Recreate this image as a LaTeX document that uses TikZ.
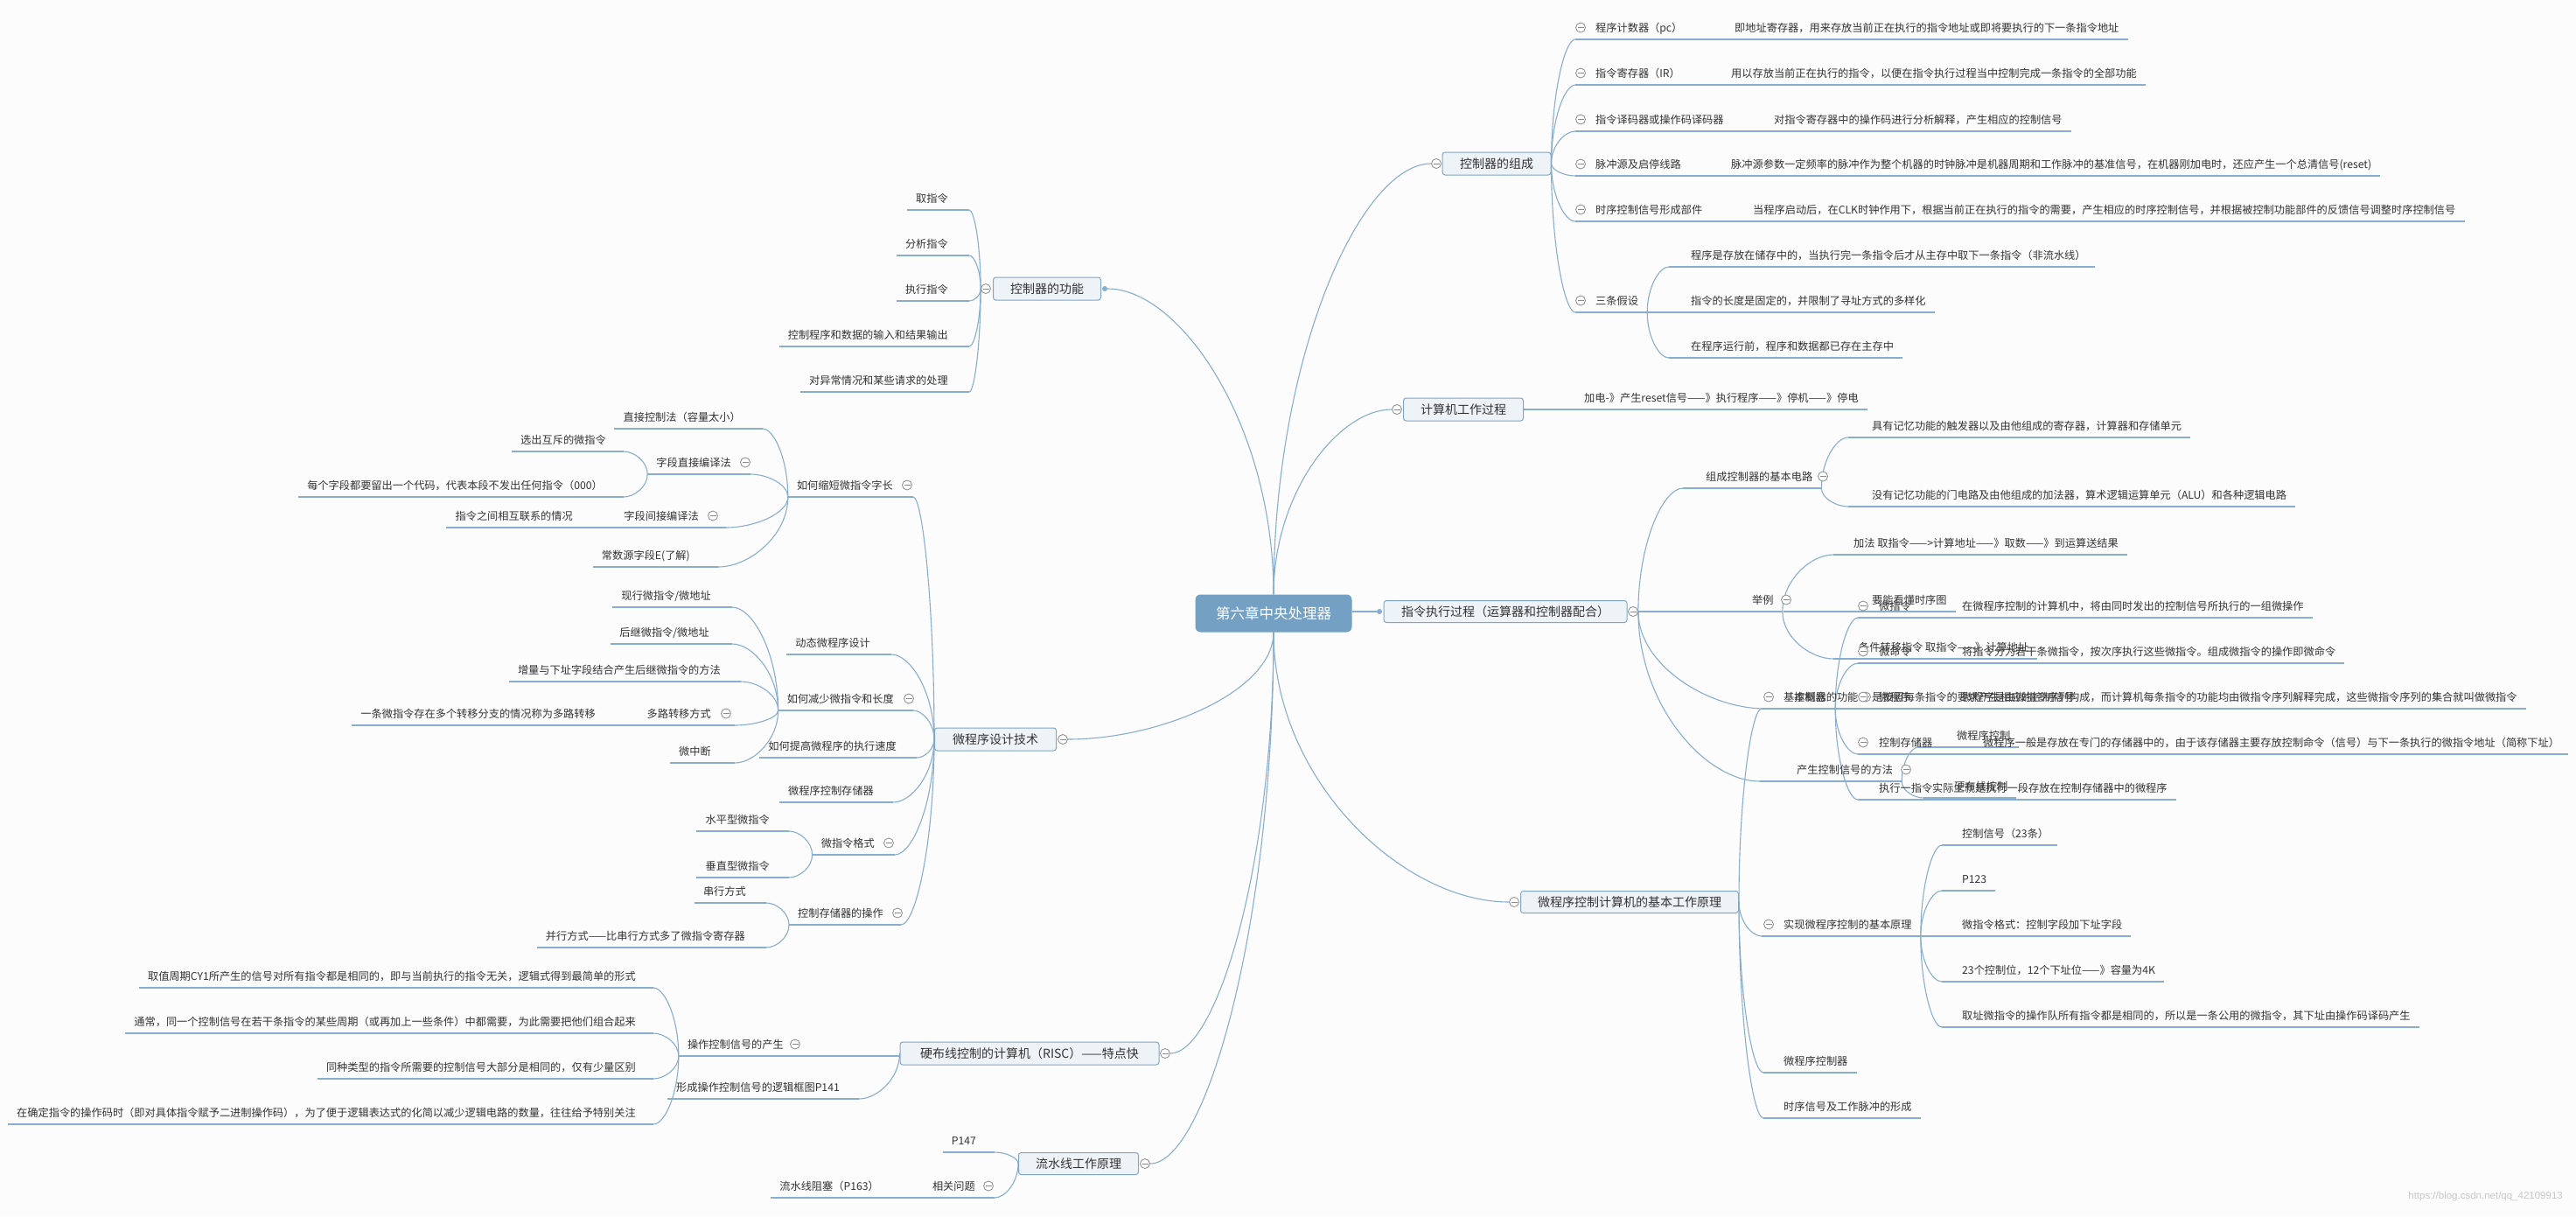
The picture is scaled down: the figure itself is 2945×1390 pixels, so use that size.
\documentclass[tikz,border=0pt]{standalone}
\usepackage{fontspec}
\setmainfont{Noto Sans CJK SC}
\newfontfamily\wmfont{Liberation Sans}
\usetikzlibrary{calc}
\pgfdeclarelayer{back}
\pgfdeclarelayer{bg}
\pgfsetlayers{back,bg,main}
\definecolor{lc}{HTML}{88ADCD}
\definecolor{tc}{HTML}{333333}
\definecolor{tb}{HTML}{7FA6C8}
\definecolor{tf}{HTML}{EEF3F8}
\definecolor{cf}{HTML}{73A0C3}
\definecolor{cg}{HTML}{8A8A8A}
\definecolor{bgc}{HTML}{FCFCFC}
\tikzset{
 ln/.style={draw=lc, line width=1.1pt},
 txt/.style={font=\fontsize{12.2}{14}\selectfont, text=tc, inner sep=0pt, text height=10.7pt, text depth=1.5pt},
 topic/.style={draw=tb, fill=tf, rounded corners=3pt, line width=1pt, font=\fontsize{14}{16}\selectfont, text=tc, inner sep=0pt},
 central/.style={fill=cf, rounded corners=6pt, text=white, font=\fontsize{16.5}{18}\selectfont, inner sep=0pt},
 colc/.style={circle, draw=cg, fill=white, line width=0.8pt, minimum size=11pt, inner sep=0pt,
   path picture={\draw[cg,line width=0.8pt] ([xshift=-3.5pt]path picture bounding box.center) -- ([xshift=3.5pt]path picture bounding box.center);}},
 dotc/.style={circle, fill=lc, minimum size=6pt, inner sep=0pt},
 wmark/.style={font=\wmfont\fontsize{11.5}{13}\selectfont, text=black!22, inner sep=0pt},
}
% right leaf: name, line start x, text x, line y, text
\newcommand\lfR[5]{%
 \node[txt,anchor=west] (#1) at (#3,#4-13.5) {#5};
 \coordinate (#1-a) at (#2,#4);
 \path (#1.east |- #1-a) ++(10,0) coordinate (#1-b);
 \begin{pgfonlayer}{bg}\draw[ln] (#1-a) -- (#1-b);\end{pgfonlayer}}
% left leaf: name, line end x, text end x, line y, text
\newcommand\lfL[5]{%
 \node[txt,anchor=east] (#1) at (#3,#4-13.5) {#5};
 \coordinate (#1-b) at (#2,#4);
 \path (#1.west |- #1-b) ++(-10,0) coordinate (#1-a);
 \begin{pgfonlayer}{bg}\draw[ln] (#1-a) -- (#1-b);\end{pgfonlayer}}
\newcommand\cv[2]{\begin{pgfonlayer}{bg}\draw[ln] (#1) .. controls ($(#1)!0.55!(#1 |- #2)$) and ($(#1 |- #2)!0.55!(#2)$) .. (#2);\end{pgfonlayer}}
\newcommand\cc[3]{\node[colc] (#1) at (#2,#3) {};}
\begin{document}
\begin{tikzpicture}[x=1pt,y=-1pt]
\begin{pgfonlayer}{back}
\fill[bgc] (0,0) rectangle (2945,1390);
\end{pgfonlayer}
\useasboundingbox (0,0) rectangle (2945,1390);
% central
\node[central, minimum width=179, minimum height=43] (root) at (1456,701) {第六章中央处理器};

% ===== 控制器的组成
\node[topic,minimum width=124,minimum height=26] (t1) at (1711,187) {控制器的组成};
\cc{t1c}{1642}{187}
\cv{root.north}{t1c.west}
\lfR{pc}{1801}{1824}{45}{程序计数器（pc）}
\lfR{pcd}{1801}{1983}{45}{即地址寄存器，用来存放当前正在执行的指令地址或即将要执行的下一条指令地址}
\lfR{ir}{1801}{1824}{97}{指令寄存器（IR）}
\lfR{ird}{1801}{1979}{97}{用以存放当前正在执行的指令，以便在指令执行过程当中控制完成一条指令的全部功能}
\lfR{dec}{1801}{1824}{150}{指令译码器或操作码译码器}
\lfR{decd}{1801}{2028}{150}{对指令寄存器中的操作码进行分析解释，产生相应的控制信号}
\lfR{pul}{1801}{1824}{201}{脉冲源及启停线路}
\lfR{puld}{1801}{1979}{201}{脉冲源参数一定频率的脉冲作为整个机器的时钟脉冲是机器周期和工作脉冲的基准信号，在机器刚加电时，还应产生一个总清信号(reset)}
\lfR{tim}{1801}{1824}{253}{时序控制信号形成部件}
\lfR{timd}{1801}{2004}{253}{当程序启动后，在CLK时钟作用下，根据当前正在执行的指令的需要，产生相应的时序控制信号，并根据被控制功能部件的反馈信号调整时序控制信号}
\lfR{sj}{1801}{1824}{357}{三条假设}
\lfR{sj1}{1908}{1933}{305}{程序是存放在储存中的，当执行完一条指令后才从主存中取下一条指令（非流水线）}
\lfR{sj2}{1883}{1933}{357}{指令的长度是固定的，并限制了寻址方式的多样化}
\lfR{sj3}{1908}{1933}{409}{在程序运行前，程序和数据都已存在主存中}
\foreach \n in {pc,ir,dec,pul,tim,sj}{\cv{t1.east}{\n-a}}
\cv{sj-b}{sj1-a}\cv{sj-b}{sj2-a}\cv{sj-b}{sj3-a}
\cc{pcc}{1807}{31.5}\cc{irc}{1807}{83.5}\cc{decc}{1807}{136.5}\cc{pulc}{1807}{187.5}\cc{timc}{1807}{239.5}\cc{sjc}{1807}{343.5}

% ===== 计算机工作过程
\node[topic,minimum width=137,minimum height=26] (t2) at (1673,468) {计算机工作过程};
\cc{t2c}{1597}{468}
\cv{root.north}{t2c.west}
\lfR{w1}{1742}{1811}{468}{加电-》产生reset信号——》执行程序——》停机——》停电}

% ===== 控制器的功能 (left)
\node[topic,minimum width=123,minimum height=26] (t3) at (1197,330) {控制器的功能};
\node[dotc] (t3d) at (1263,330) {};
\cc{t3c}{1127}{330}
\cv{root.north}{t3d}
\lfL{f1}{1108}{1084}{240}{取指令}
\lfL{f2}{1108}{1084}{292}{分析指令}
\lfL{f3}{1108}{1084}{344}{执行指令}
\lfL{f4}{1108}{1084}{396}{控制程序和数据的输入和结果输出}
\lfL{f5}{1108}{1084}{448}{对异常情况和某些请求的处理}
\foreach \n in {f1,f2,f3,f4,f5}{\cv{t3c.west}{\n-b}}

% ===== 指令执行过程
\node[topic,minimum width=278,minimum height=25] (t4) at (1721,699) {指令执行过程（运算器和控制器配合）};
\node[dotc] (t4d) at (1577,699) {};
\begin{pgfonlayer}{bg}\draw[ln] (root.east |- t4d) -- (t4d);\end{pgfonlayer}
\cc{t4c}{1867}{699}
\lfR{e1}{1924}{1950}{558}{组成控制器的基本电路}
\lfR{e11}{2113}{2140}{500}{具有记忆功能的触发器以及由他组成的寄存器，计算器和存储单元}
\lfR{e12}{2113}{2140}{579}{没有记忆功能的门电路及由他组成的加法器，算术逻辑运算单元（ALU）和各种逻辑电路}
\cv{e1-b}{e11-a}\cv{e1-b}{e12-a}
\lfR{e2}{1872}{2003}{699}{举例}
\lfR{e21}{2096}{2119}{634}{加法 取指令——>计算地址——》取数——》到运算送结果}
\lfR{e22}{2039}{2140}{699}{要能看懂时序图}
\lfR{e23}{2096}{2125}{753}{条件转移指令 取指令——》计算地址}
\cv{e2-b}{e21-a}\cv{e2-b}{e23-a}
\lfR{e3}{2018}{2051}{810}{控制器的功能}
\lfR{e31}{2128}{2140}{810}{是按照每条指令的要求产生相应的控制信号}
\lfR{e4}{2012}{2054}{893}{产生控制信号的方法}
\lfR{e41}{2193}{2237}{854}{微程序控制}
\lfR{e42}{2199}{2234}{912}{硬布线控制}
\cv{e4-b}{e41-a}\cv{e4-b}{e42-a}
\foreach \n in {e1,e3,e4}{\cv{t4c.east}{\n-a}}
\cc{e1c}{2084}{544.5}\cc{e2c}{2042}{685.5}\cc{e3c}{2133}{796.5}\cc{e4c}{2179}{879.5}

% ===== 微程序控制计算机的基本工作原理
\node[topic,minimum width=249,minimum height=25] (t5) at (1863,1031) {微程序控制计算机的基本工作原理};
\cc{t5c}{1731}{1031}
\cv{root.south}{t5c.west}
\lfR{m1}{2014}{2039}{810}{基本概念}
\lfR{m11}{2124}{2148}{706}{微指令}
\lfR{m11d}{2124}{2243}{706}{在微程序控制的计算机中，将由同时发出的控制信号所执行的一组微操作}
\lfR{m12}{2124}{2148}{758}{微命令}
\lfR{m12d}{2124}{2243}{758}{将指令分为若干条微指令，按次序执行这些微指令。组成微指令的操作即微命令}
\lfR{m13}{2099}{2148}{810}{微程序}
\lfR{m13d}{2099}{2243}{810}{微程序是由微指令序列构成，而计算机每条指令的功能均由微指令序列解释完成，这些微指令序列的集合就叫做微指令}
\lfR{m14}{2124}{2148}{862}{控制存储器}
\lfR{m14d}{2124}{2267}{862}{微程序一般是存放在专门的存储器中的，由于该存储器主要存放控制命令（信号）与下一条执行的微指令地址（简称下址）}
\lfR{m15}{2124}{2148}{914}{执行一指令实际上就是执行一段存放在控制存储器中的微程序}
\foreach \n in {m11,m12,m13,m14,m15}{\cv{m1-b}{\n-a}}
\lfR{m2}{2014}{2039}{1070}{实现微程序控制的基本原理}
\lfR{m21}{2220}{2243}{966}{控制信号（23条）}
\lfR{m22}{2220}{2243}{1018}{P123}
\lfR{m23}{2195}{2243}{1070}{微指令格式：控制字段加下址字段}
\lfR{m24}{2220}{2243}{1122}{23个控制位，12个下址位——》容量为4K}
\lfR{m25}{2220}{2243}{1174}{取址微指令的操作队所有指令都是相同的，所以是一条公用的微指令，其下址由操作码译码产生}
\foreach \n in {m21,m22,m23,m24,m25}{\cv{m2-b}{\n-a}}
\lfR{m3}{2016}{2039}{1226}{微程序控制器}
\lfR{m4}{2016}{2039}{1278}{时序信号及工作脉冲的形成}
\foreach \n in {m1,m2,m3,m4}{\cv{t5.east}{\n-a}}
\cc{m1c}{2022}{796.5}\cc{m11c}{2130}{692.5}\cc{m12c}{2130}{744.5}\cc{m13c}{2130}{796.5}\cc{m14c}{2130}{848.5}\cc{m2c}{2022}{1056.5}

% ===== 微程序设计技术 (left)
\node[topic,minimum width=139,minimum height=26] (t6) at (1138,845) {微程序设计技术};
\cc{t6c}{1215}{845}
\cv{root.south}{t6c.east}
\lfL{d1}{1044}{1021}{568}{如何缩短微指令字长}
\lfL{d11}{872}{847}{490}{直接控制法（容量太小）}
\lfL{d12}{858}{836}{542}{字段直接编译法}
\lfL{d121}{713}{693}{516}{选出互斥的微指令}
\lfL{d122}{713}{689}{568}{每个字段都要留出一个代码，代表本段不发出任何指令（000）}
\cv{d12-a}{d121-b}\cv{d12-a}{d122-b}
\lfL{d13}{830}{799}{603}{字段间接编译法}
\lfL{d131}{710}{655}{603}{指令之间相互联系的情况}
\cv{d13-a}{d131-b}
\lfL{d14}{821}{789}{648}{常数源字段E(了解)}
\foreach \n in {d11,d12,d13,d14}{\cv{d1-a}{\n-b}}
\lfL{d2}{1019}{995}{748}{动态微程序设计}
\lfL{d3}{1044}{1022}{812}{如何减少微指令和长度}
\lfL{d31}{837}{813}{694}{现行微指令/微地址}
\lfL{d32}{837}{811}{736}{后继微指令/微地址}
\lfL{d33}{847}{824}{779}{增量与下址字段结合产生后继微指令的方法}
\lfL{d34}{840}{813}{829}{多路转移方式}
\lfL{d341}{735}{681}{829}{一条微指令存在多个转移分支的情况称为多路转移}
\cv{d34-a}{d341-b}
\lfL{d35}{840}{813}{872}{微中断}
\foreach \n in {d31,d32,d33,d34,d35}{\cv{d3-a}{\n-b}}
\lfL{d4}{1048}{1025}{866}{如何提高微程序的执行速度}
\lfL{d5}{1021}{999}{917}{微程序控制存储器}
\lfL{d6}{1023}{1000}{977}{微指令格式}
\lfL{d61}{902}{880}{950}{水平型微指令}
\lfL{d62}{902}{880}{1003}{垂直型微指令}
\cv{d6-a}{d61-b}\cv{d6-a}{d62-b}
\lfL{d7}{1030}{1010}{1057}{控制存储器的操作}
\lfL{d71}{876}{853}{1032}{串行方式}
\lfL{d72}{876}{852}{1083}{并行方式——比串行方式多了微指令寄存器}
\cv{d7-a}{d71-b}\cv{d7-a}{d72-b}
\foreach \n in {d1,d2,d3,d4,d5,d6,d7}{\cv{t6.west}{\n-b}}
\cc{d1c}{1037}{554.5}\cc{d12c}{852}{528.5}\cc{d13c}{815}{589.5}\cc{d3c}{1039}{798.5}\cc{d34c}{830}{815.5}\cc{d6c}{1016}{963.5}\cc{d7c}{1026}{1043.5}

% ===== 硬布线控制的计算机 (left)
\node[topic,minimum width=296,minimum height=26] (t7) at (1177,1204) {硬布线控制的计算机（RISC）——特点快};
\cc{t7c}{1332}{1204}
\cv{root.south}{t7c.east}
\lfL{h1}{1029}{896}{1207}{操作控制信号的产生}
\lfL{h11}{747}{727}{1129}{取值周期CY1所产生的信号对所有指令都是相同的，即与当前执行的指令无关，逻辑式得到最简单的形式}
\lfL{h12}{747}{727}{1181}{通常，同一个控制信号在若干条指令的某些周期（或再加上一些条件）中都需要，为此需要把他们组合起来}
\lfL{h13}{747}{727}{1233}{同种类型的指令所需要的控制信号大部分是相同的，仅有少量区别}
\lfL{h14}{747}{727}{1285}{在确定指令的操作码时（即对具体指令赋予二进制操作码），为了便于逻辑表达式的化简以减少逻辑电路的数量，往往给予特别关注}
\foreach \n in {h11,h12,h13,h14}{\cv{h1-a}{\n-b}}
\lfL{h2}{982}{960}{1256}{形成操作控制信号的逻辑框图P141}
\cv{t7.west}{h1-b}\cv{t7.west}{h2-b}
\cc{h1c}{909}{1193.5}

% ===== 流水线工作原理 (left)
\node[topic,minimum width=137,minimum height=25] (t8) at (1233,1330) {流水线工作原理};
\cc{t8c}{1309}{1330}
\cv{root.south}{t8c.east}
\lfL{p1}{1137}{1116}{1317}{P147}
\lfL{p2}{1137}{1115}{1369}{相关问题}
\lfL{p21}{1060}{1005}{1369}{流水线阻塞（P163）}
\cv{p2-a}{p21-b}
\cv{t8.west}{p1-b}\cv{t8.west}{p2-b}
\cc{p2c}{1130}{1355.5}

% watermark
\node[wmark, anchor=east] (wm) at (2930,1368) {https://blog.csdn.net/qq\_42109913};
\end{tikzpicture}
\end{document}
